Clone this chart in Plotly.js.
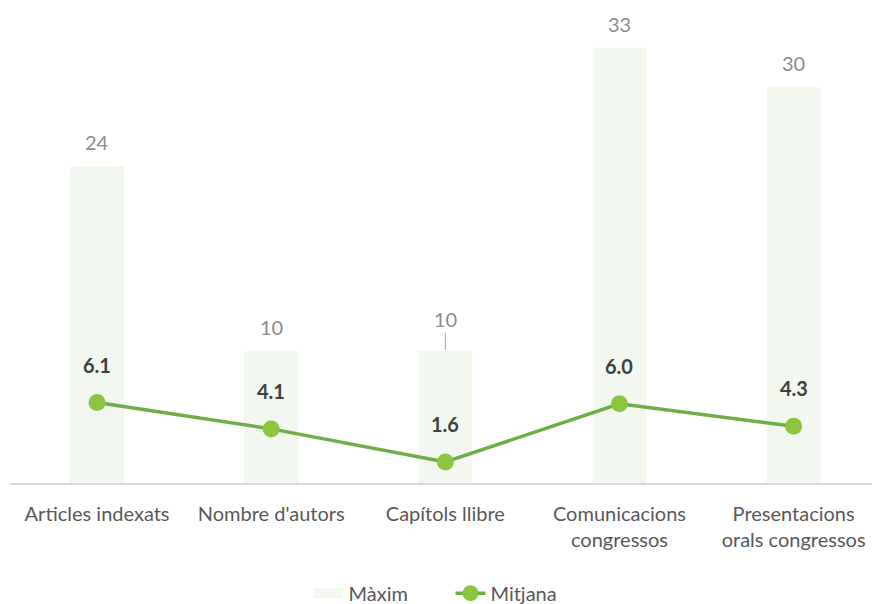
<!DOCTYPE html>
<html><head><meta charset="utf-8">
<script src="https://cdn.plot.ly/plotly-3.0.1.min.js"></script>
<style>body{margin:0}#c{width:872px;height:604px}</style>
</head><body><div id="c"></div>
<script>
const categories = ["Articles indexats","Nombre d'autors","Capítols llibre","Comunicacions<br>congressos","Presentacions<br>orals congressos"];
const maxim = [24, 10, 10, 33, 30];
const mitjana = [6.1, 4.1, 1.6, 6.0, 4.3];
const xs = categories.map((c,i)=>i);

const font = "Lato, 'Open Sans', sans-serif";
const barColor = '#F2F8EF';
const traces = [
  {type:'bar', name:'Màxim', x:xs, y:maxim, width:0.31, showlegend:false,
   marker:{color:barColor}, hoverinfo:'skip'},
  {type:'scatter', mode:'lines', name:'Màxim', x:[null], y:[null],
   line:{color:barColor, width:14}, showlegend:true},
  {type:'scatter', mode:'lines+markers', name:'Mitjana', x:xs, y:mitjana,
   line:{color:'#70AD47', width:3.5}, marker:{color:'#8CC63F', size:17}}
];
const ann = [];
maxim.forEach((v,i)=>{
  const lead = i===2;
  ann.push({x:i, y:v, xref:'x', yref:'y', text:String(v), showarrow:lead,
    arrowhead:0, arrowwidth:1, arrowcolor:'#a6a6a6', ax:0, ay:lead?-32:0, standoff:1,
    yshift:lead?0:24, font:{family:font, size:20, color:'#8c8c8c'}});
});
mitjana.forEach((v,i)=>{
  ann.push({x:i, y:v, xref:'x', yref:'y', text:'<b>'+v.toFixed(1)+'</b>', showarrow:false,
    yshift:38, font:{family:font, size:20, color:'#404040'}});
});
const layout = {
  width:872, height:604,
  margin:{l:10, r:0, t:8, b:121, autoexpand:false},
  paper_bgcolor:'#fff', plot_bgcolor:'#fff',
  showlegend:true,
  legend:{orientation:'h', x:0.511, xanchor:'center', yref:'container', y:0.018, yanchor:'middle',
    entrywidth:97, entrywidthmode:'pixels',
    font:{family:font, size:20, color:'#595959'}},
  xaxis:{range:[-0.5,4.45], tickvals:xs, ticktext:categories, showgrid:false, zeroline:false,
    showline:true, linecolor:'#d9d9d9', linewidth:1.5, ticks:'', fixedrange:true, automargin:false,
    ticklabelstandoff:12,
    tickfont:{family:font, size:20, color:'#595959'}},
  yaxis:{range:[0,36], visible:false, showgrid:false, zeroline:false, automargin:false},
  annotations:ann,
  bargap:0.6
};
Plotly.newPlot('c', traces, layout, {displayModeBar:false, staticPlot:true});
</script></body></html>
